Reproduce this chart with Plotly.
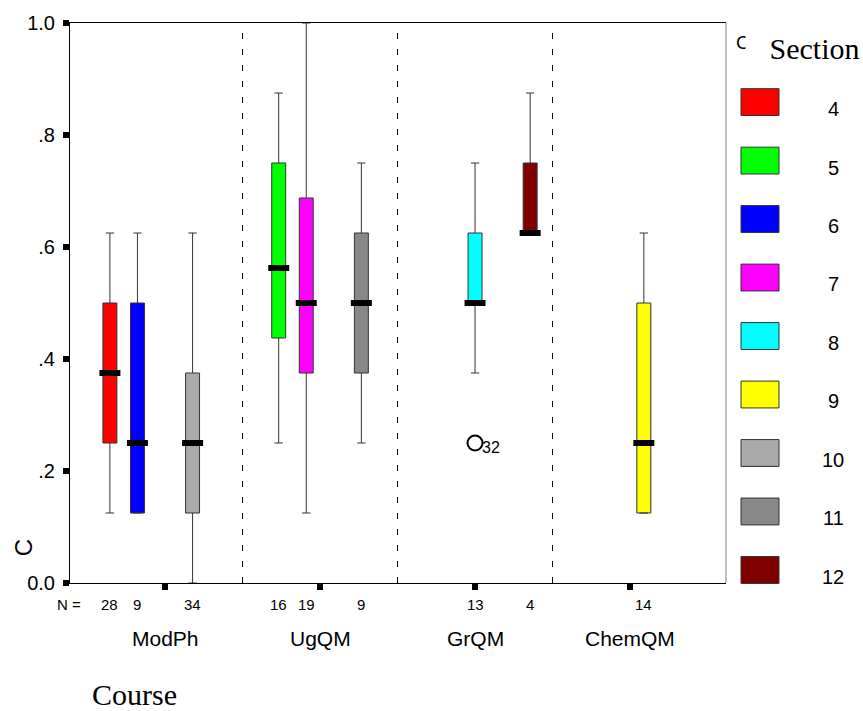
import plotly.graph_objects as go

# ---- data ----
courses = ["ModPh", "UgQM", "GrQM", "ChemQM"]
sections = ["4", "5", "6", "7", "8", "9", "10", "11", "12"]
section_colors = ["#ff0000", "#00ff00", "#0000ff", "#ff00ff", "#00ffff",
                  "#ffff00", "#aaaaaa", "#888888", "#800000"]
section_course = ["ModPh", "UgQM", "ModPh", "UgQM", "GrQM", "ChemQM", "ModPh", "UgQM", "GrQM"]
n_counts = [28, 16, 9, 19, 13, 14, 34, 9, 4]
q1 = [0.25, 0.4375, 0.125, 0.375, 0.5, 0.125, 0.125, 0.375, 0.625]
median = [0.375, 0.5625, 0.25, 0.5, 0.5, 0.25, 0.25, 0.5, 0.625]
q3 = [0.5, 0.75, 0.5, 0.6875, 0.625, 0.5, 0.375, 0.625, 0.75]
lower = [0.125, 0.25, 0.125, 0.125, 0.375, 0.125, 0.0, 0.25, 0.625]
upper = [0.625, 0.875, 0.625, 1.0, 0.75, 0.625, 0.625, 0.75, 0.875]
outlier_section = "8"
outlier_value = 0.25
outlier_label = "32"
y_ticks = [0.0, 0.2, 0.4, 0.6, 0.8, 1.0]
y_ticktext = ["0.0", ".2", ".4", ".6", ".8", "1.0"]

# ---- layout helpers ----
W, H = 863, 711
ML, MR, MT, MB = 70, 137, 20, 128
PW, PH = W - ML - MR, H - MT - MB
SLOT = 0.8 / len(sections)
SANS = "Liberation Sans, Arial, sans-serif"
SERIF = "Liberation Serif, Times New Roman, serif"


def px_x(p):
    return (p - ML) / PW


def px_y(p):
    return (H - MB - p) / PH


def pos(i):
    return courses.index(section_course[i]) + (i - (len(sections) - 1) / 2) * SLOT


fig = go.Figure()
for i, s in enumerate(sections):
    fig.add_trace(go.Box(
        x=[pos(i)], q1=[q1[i]], median=[median[i]], q3=[q3[i]],
        lowerfence=[lower[i]], upperfence=[upper[i]],
        width=0.09, whiskerwidth=0.6, boxpoints=False,
        fillcolor=section_colors[i], line=dict(color="#333333", width=1),
        name=s, showlegend=False, hoverinfo="skip"))

# thick medians
fig.add_trace(go.Scatter(
    x=[pos(i) for i in range(len(sections))], y=median, mode="markers",
    marker=dict(symbol="line-ew", size=15, line=dict(color="black", width=6)),
    showlegend=False, hoverinfo="skip"))

# outlier
oi = sections.index(outlier_section)
fig.add_trace(go.Scatter(
    x=[pos(oi)], y=[outlier_value], mode="markers",
    marker=dict(symbol="circle-open", size=15, color="black", line=dict(width=2)),
    showlegend=False, hoverinfo="skip"))


def text(x, y, t, size, family=SANS, xref="paper", yref="paper", **kw):
    d = dict(x=x, y=y, xref=xref, yref=yref, text=t, showarrow=False,
             xanchor="center", yanchor="middle",
             font=dict(family=family, size=size, color="black"))
    d.update(kw)
    return d


ann = []
ann.append(text(pos(oi), outlier_value, outlier_label, 16, xref="x", yref="y",
                xshift=16, yshift=-4))

# dashed dividers
shapes = []
for k in range(len(courses) - 1):
    shapes.append(dict(type="line", xref="x", yref="y", x0=k + 0.5, x1=k + 0.5,
                       y0=0, y1=0.985, line=dict(color="black", width=1, dash="6px,10px")))
# right border (gray)
shapes.append(dict(type="line", xref="paper", yref="paper", x0=1, x1=1, y0=0, y1=1,
                   line=dict(color="#808080", width=1)))

# N labels
ann.append(text(px_x(83), px_y(605), "N =", 15, xanchor="right"))
for i in range(len(sections)):
    ann.append(text(pos(i), px_y(605), str(n_counts[i]), 15, xref="x"))
# category labels
for k, c in enumerate(courses):
    ann.append(text(k, px_y(639), c, 21, xref="x"))
# axis titles
ann.append(text(px_x(134), px_y(695), "Course", 30, family=SERIF))
ann.append(text(px_x(23), px_y(548), "C", 24, textangle=-90))

# legend (drawn manually, SPSS style)
ann.append(text(px_x(734), px_y(40), "C", 19, xanchor="left"))
ann.append(text(px_x(862), px_y(46), "\u00a0\u00a0\u00a0Section", 30, family=SERIF,
                xanchor="right", bgcolor="white"))
for i, s in enumerate(sections):
    cy = 99.5 + 58.8 * i
    shapes.append(dict(type="rect", xref="paper", yref="paper",
                       x0=px_x(741), x1=px_x(779), y0=px_y(cy + 13.5), y1=px_y(cy - 13.5),
                       fillcolor=section_colors[i], line=dict(color="#333333", width=1)))
    ann.append(text(px_x(833), px_y(cy + 7), s, 20))

fig.update_layout(
    width=W, height=H, margin=dict(l=ML, r=MR, t=MT, b=MB),
    paper_bgcolor="white", plot_bgcolor="white",
    showlegend=False, shapes=shapes, annotations=ann,
    xaxis=dict(range=[-0.613, 3.619], tickvals=list(range(len(courses))),
               showticklabels=False, ticks="outside", ticklen=6, tickwidth=6,
               tickcolor="black", showline=True, linecolor="black", linewidth=1,
               mirror=True, showgrid=False, zeroline=False),
    yaxis=dict(range=[0, 1], tickvals=y_ticks, ticktext=y_ticktext,
               ticks="outside", ticklen=6, tickwidth=6, tickcolor="black",
               ticklabelstandoff=4,
               tickfont=dict(family=SANS, size=20, color="black"),
               showline=True, linecolor="black", linewidth=1,
               showgrid=False, zeroline=False),
)

fig.write_html("out.html", config={"displayModeBar": False},
               post_script="document.body.style.margin='0';")
